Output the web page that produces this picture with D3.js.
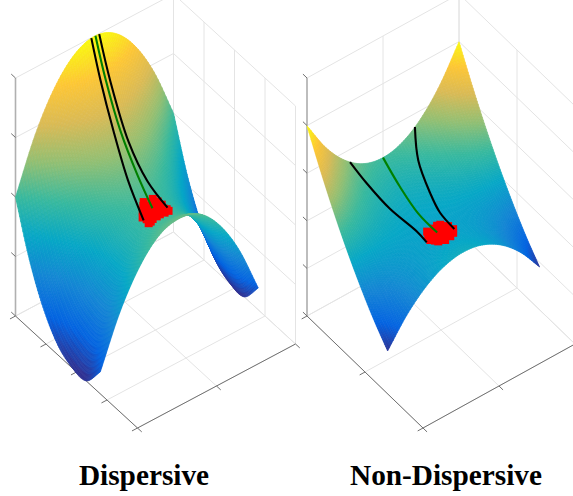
<!DOCTYPE html>
<html><head><meta charset="utf-8">
<script src="https://cdn.jsdelivr.net/npm/d3@7"></script>
<style>html,body{margin:0;padding:0;background:#fff}svg{display:block}</style>
</head><body><svg id="c" width="573" height="496"></svg>
<script>
// ---------- data ----------
const titles = ["Dispersive", "Non-Dispersive"];
const parula = ["#352a87","#0363e1","#1485d4","#06a7c6","#38b99e","#92bf73","#d9ba56","#fdc635","#f9fb0e"];

// height (0..1 of the z axis) over a grid: rows run along u (0..uMax), columns along v (0..1)
const leftUMax = 0.695;
const leftZ = [
 [.499,.718,.874,.968,.999,.968,.874,.718,.499],
 [.287,.506,.662,.756,.787,.756,.662,.506,.287],
 [.136,.355,.511,.605,.636,.605,.511,.355,.136],
 [.041,.260,.416,.510,.541,.510,.416,.260,.041],
 [.001,.220,.376,.470,.501,.470,.376,.220,.001],
 [.000,.225,.385,.480,.507,.480,.385,.225,.000],
 [.092,.300,.447,.535,.560,.535,.447,.300,.092]
];
const rightUMax = 0.695;
const rightZ = [
 [.799,.663,.566,.508,.489,.508,.566,.663,.799],
 [.666,.571,.502,.462,.448,.462,.502,.571,.666],
 [.545,.490,.450,.427,.419,.427,.450,.490,.545],
 [.436,.421,.410,.404,.401,.404,.410,.421,.436],
 [.339,.364,.382,.392,.396,.392,.382,.364,.339],
 [.253,.318,.365,.393,.402,.393,.365,.318,.253],
 [.180,.285,.360,.405,.420,.405,.360,.285,.180]
];

// trajectories, [u, v] on the surface
const leftBlack1 = [[0,.48],[.075,.48],[.18,.48],[.32,.465],[.5,.425]];
const leftGreen  = [[0,.506],[.08,.51],[.19,.518],[.32,.525],[.475,.5]];
const leftBlack2 = [[0,.53],[.085,.535],[.22,.545],[.35,.565],[.5,.576]];
const rightBlack1 = [[0,.283],[.09,.324],[.23,.37],[.40,.416],[.49,.414]];
const rightGreen  = [[0,.5],[.15,.497],[.315,.492],[.47,.498]];
const rightBlack2 = [[0,.71],[.105,.652],[.255,.615],[.37,.592],[.50,.588]];

// end-point clouds, [u, v]
const leftCloud = [[.484,.431],[.425,.483],[.43,.537],[.473,.56],[.528,.561],[.53,.504],[.536,.429],[.531,.458],
 [.468,.469],[.457,.502],[.478,.518],[.498,.521],[.502,.55],[.5,.488],[.508,.438],[.452,.532],[.533,.532],
 [.456,.453],[.532,.483],[.537,.441],[.511,.562],[.45,.552],[.5,.464],[.487,.542],[.44,.47],[.475,.49],[.515,.51],[.49,.45],[.46,.53]];
const rightCloud = [[.433,.46],[.435,.545],[.498,.581],[.534,.535],[.525,.463],[.489,.438],[.438,.502],[.473,.548],
 [.48,.51],[.505,.531],[.478,.472],[.517,.501],[.459,.447],[.431,.527],[.465,.573],[.521,.564],[.509,.454],[.541,.496],[.455,.49],[.49,.49],[.47,.525]];

const leftUTicks = [0,.25,.5,.75,1], leftVTicks = [0,.5,1], leftZTicks = [0,.25,.5,.75,1];
const rightUTicks = [0,.5,1], rightVTicks = [0,.5,1], rightZTicks = [0,.2,.4,.6,.8,1];

// ---------- drawing ----------
const svg = d3.select("#c");
const colourAt = d3.scaleLinear().domain(parula.map((_,i)=>i/(parula.length-1))).range(parula).interpolate(d3.interpolateRgb);

function cr(a,b,c,d,t){ return .5*((2*b)+(-a+c)*t+(2*a-5*b+4*c-d)*t*t+(-a+3*b-3*c+d)*t*t*t); }
function sample1(arr,p){
  const n=arr.length-1, i=Math.min(n-1,Math.max(0,Math.floor(p))), t=p-i;
  const at=k=> k<0 ? 2*arr[0]-arr[1] : k>n ? 2*arr[n]-arr[n-1] : arr[k];
  return cr(at(i-1),at(i),at(i+1),at(i+2),t);
}

function chart(o){
  const g = svg.append("g");
  const ux = d3.scaleLinear().domain([0,1]).range([0,o.ux]);
  const uy = d3.scaleLinear().domain([0,1]).range([0,112]);
  const vx = d3.scaleLinear().domain([0,1]).range([0,o.vx]);
  const vy = d3.scaleLinear().domain([0,1]).range([0,-84]);
  const zy = d3.scaleLinear().domain([0,1]).range([0,-238]);
  const P = (u,v,w)=>[o.ox+ux(u)+vx(v), o.oy+uy(u)+vy(v)+zy(w)];
  const seg = (a,b,st,sw)=>g.append("line").attr("x1",a[0]).attr("y1",a[1]).attr("x2",b[0]).attr("y2",b[1])
      .attr("stroke",st).attr("stroke-width",sw);
  const gridC="#e4e4e4";
  // walls and floor grid
  o.zT.forEach(z=>{ seg(P(0,0,z),P(0,1,z),gridC,1); seg(P(0,1,z),P(1,1,z),gridC,1); });
  o.uT.forEach(u=>{ seg(P(u,1,0),P(u,1,1),gridC,1); seg(P(u,0,0),P(u,1,0),gridC,1); });
  o.vT.forEach(v=>{ seg(P(0,v,0),P(0,v,1),gridC,1); seg(P(0,v,0),P(1,v,0),gridC,1); });
  // axes
  seg(P(0,0,0),P(0,0,1),"#b0b0b0",1.6);
  seg(P(0,0,0),P(1,0,0),"#707070",1);
  seg(P(1,0,0),P(1,1,0),"#707070",1);
  o.zT.forEach(z=>seg(P(0,0,z),P(-.035,0,z),"#707070",1));
  o.uT.forEach(u=>seg(P(u,0,0),P(u,-.035,0),"#707070",1));
  o.vT.forEach(v=>seg(P(1,v,0),P(1.035,v,0),"#707070",1));

  // surface
  const Z=o.z, nu=Z.length-1;
  const zAt=(u,v)=>{
    const pv=v*(Z[0].length-1), pu=u/o.uMax*nu;
    const col=Z.map(r=>sample1(r,pv));
    return sample1(col,pu);
  };
  const N=80, all=d3.merge(Z), zmin=d3.min(all)-.012, zmax=d3.max(all);
  const cs=d3.scaleLinear().domain([zmin,zmax]).range([0,1]);
  const us=d3.range(N+1).map(i=>i/N*o.uMax), vs=d3.range(N+1).map(j=>j/N);
  const H=us.map(u=>vs.map(v=>zAt(u,v)));
  const sf=g.append("g");
  for(let i=0;i<N;i++) for(let j=N-1;j>=0;j--){
    const pts=[P(us[i],vs[j],H[i][j]),P(us[i+1],vs[j],H[i+1][j]),P(us[i+1],vs[j+1],H[i+1][j+1]),P(us[i],vs[j+1],H[i][j+1])];
    const c=colourAt(cs((H[i][j]+H[i+1][j]+H[i+1][j+1]+H[i][j+1])/4));
    sf.append("path").attr("d",d3.line()(pts)+"Z").attr("fill",c).attr("stroke",c).attr("stroke-width",.7);
  }
  // trajectories & clouds
  const line=d3.line().curve(d3.curveCatmullRom.alpha(.5));
  const toS=d=>P(d[0],d[1],zAt(d[0],d[1]));
  g.append("g").selectAll("path").data(o.cloud).join("path")
    .attr("d",d3.symbol(d3.symbolSquare,64)).attr("fill","#ff0000")
    .attr("transform",d=>{const p=toS(d);return `translate(${p[0]},${p[1]})`;});
  [[o.b1,"#000"],[o.b2,"#000"],[o.gr,"#008000"]].forEach(([d,c])=>{
    g.append("path").attr("d",line(d.map(toS))).attr("fill","none").attr("stroke",c).attr("stroke-width",2.1);
  });
  svg.append("text").attr("x",o.tx).attr("y",485).attr("text-anchor","middle").text(o.title)
    .attr("font-family","'Liberation Serif',serif").attr("font-weight","bold").attr("font-size",29.3).attr("fill","#000");
}

chart({ox:15.5,oy:316,ux:122,vx:158,uMax:leftUMax,z:leftZ,b1:leftBlack1,b2:leftBlack2,gr:leftGreen,cloud:leftCloud,
  uT:leftUTicks,vT:leftVTicks,zT:leftZTicks,title:titles[0],tx:144});
chart({ox:307,oy:316,ux:116,vx:152,uMax:rightUMax,z:rightZ,b1:rightBlack1,b2:rightBlack2,gr:rightGreen,cloud:rightCloud,
  uT:rightUTicks,vT:rightVTicks,zT:rightZTicks,title:titles[1],tx:446});
</script></body></html>
